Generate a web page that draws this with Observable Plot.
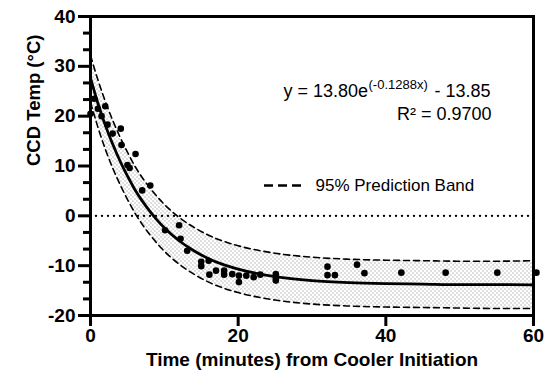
<!DOCTYPE html>
<html><head><meta charset="utf-8">
<script src="https://cdn.jsdelivr.net/npm/d3@7"></script>
<script src="https://cdn.jsdelivr.net/npm/@observablehq/plot@0.6"></script>
<style>
html,body{margin:0;padding:0;background:#fff;}
</style></head><body><div id="chart"></div>
<script>
// Observed CCD temperatures (minutes, °C)
const obsX = [0, 0.5, 1, 1.5, 2, 2.3, 3.0, 4.1, 4.2, 5.0, 5.3, 6.1, 7.0, 8.1, 10.1, 12.0, 12.2, 13.1, 15.0, 15.0, 16.0, 16.1, 17.0, 18.1, 18.1, 19.2, 20.1, 20.1, 21.1, 22.1, 23.0, 25.1, 25.1, 25.1, 32.1, 32.1, 33.1, 36.1, 37.1, 42.1, 48.1, 55.1, 60.4];
const obsY = [20.5, 23.5, 21.5, 20.0, 22.0, 18.3, 16.5, 17.5, 14.2, 10.2, 9.6, 12.4, 5.1, 6.1, -2.9, -1.9, -4.6, -7.0, -9.2, -10.1, -9.0, -11.8, -11.0, -11.0, -11.8, -11.7, -12.0, -13.3, -12.0, -12.3, -11.8, -11.7, -12.5, -13.0, -10.2, -11.9, -11.9, -9.8, -11.5, -11.4, -11.4, -11.4, -11.4];

// Fitted curve and 95% prediction band
const fitX = [0, 1, 2, 3, 4, 5, 6, 7, 8, 9, 10, 12, 14, 16, 18, 20, 25, 30, 35, 40, 45, 50, 55, 60];
const fitY = [27.7, 22.6, 18.2, 14.4, 11.0, 8.0, 5.3, 3.0, 1.0, -0.8, -2.4, -5.0, -7.0, -8.6, -9.8, -10.7, -12.2, -13.0, -13.4, -13.6, -13.7, -13.8, -13.8, -13.85];
const bandUpper = [32.2, 27.3, 23.0, 19.2, 15.8, 12.8, 10.0, 7.7, 5.7, 3.9, 2.3, -0.3, -2.3, -3.9, -5.1, -6.0, -7.5, -8.3, -8.7, -8.9, -9.0, -9.1, -9.1, -9.0];
const bandLower = [22.8, 17.8, 13.4, 9.6, 6.3, 3.3, 0.6, -1.7, -3.7, -5.5, -7.1, -9.7, -11.7, -13.3, -14.5, -15.4, -16.9, -17.7, -18.1, -18.3, -18.4, -18.5, -18.6, -18.6];

const xTicks = [0, 20, 40, 60];
const yTicks = [-20, -10, 0, 10, 20, 30, 40];
const yMinorTicks = [-16.67, -13.33, -6.67, -3.33, 3.33, 6.67, 13.33, 16.67, 23.33, 26.67, 33.33, 36.67];
const zeroLine = [0];
const legendY = [6.1];

const xLabel = "Time (minutes) from Cooler Initiation";
const yLabel = "CCD Temp (°C)";
const eqMain = "y = 13.80e";
const eqSup = "(-0.1288x)";
const eqTail = "- 13.85";
const r2Text = "R² = 0.9700";
const legendText = "95% Prediction Band";

const obs = obsX.map((x, i) => ({x, y: obsY[i]}));
const fit = fitX.map((x, i) => ({x, y: fitY[i], hi: bandUpper[i], lo: bandLower[i]}));

const font = "'Liberation Sans', Arial, Helvetica, sans-serif";
const ML = 90, MT = 16;

const plot = Plot.plot({
  width: 551, height: 376,
  marginLeft: ML, marginRight: 18, marginTop: MT, marginBottom: 61,
  style: {fontFamily: font, fontSize: "19px", fontWeight: "bold", color: "#000", background: "#fff", overflow: "visible"},
  x: {domain: [0, 60]},
  y: {domain: [-20, 40]},
  marks: [
    Plot.areaY(fit, {x: "x", y1: "lo", y2: "hi", fill: "url(#stipple)", curve: "monotone-x"}),
    Plot.line(fit, {x: "x", y: "hi", stroke: "#000", strokeWidth: 1.6, strokeDasharray: "6,4", curve: "monotone-x"}),
    Plot.line(fit, {x: "x", y: "lo", stroke: "#000", strokeWidth: 1.6, strokeDasharray: "6,4", curve: "monotone-x"}),
    Plot.ruleY(zeroLine, {stroke: "#000", strokeWidth: 2.4, strokeDasharray: "0,6", strokeLinecap: "round"}),
    Plot.line(fit, {x: "x", y: "y", stroke: "#000", strokeWidth: 2.8, curve: "monotone-x"}),
    Plot.dot(obs, {x: "x", y: "y", r: 3.3, fill: "#000", stroke: "none"}),
    Plot.axisY(yMinorTicks, {tickSize: 7, strokeWidth: 3, text: null, label: null}),
    Plot.axisY(yTicks, {tickSize: 12, strokeWidth: 3, tickPadding: 3, tickFormat: d => String(d), label: null, fontSize: 19, fontWeight: "bold"}),
    Plot.axisX(xTicks, {tickSize: 11, strokeWidth: 3, tickPadding: 2, tickFormat: d => String(d), label: null, fontSize: 19, fontWeight: "bold"}),
    Plot.frame({stroke: "#000", strokeWidth: 3}),
    Plot.text([xLabel], {frameAnchor: "bottom", dy: 44, lineAnchor: "middle", fontSize: 19, fontWeight: "bold"}),
    Plot.text([yLabel], {frameAnchor: "left", dx: -56, rotate: -90, lineAnchor: "middle", fontSize: 18.5, fontWeight: "bold"}),
    Plot.text([eqMain], {frameAnchor: "top-left", dx: 283 - ML, dy: 91 - MT, textAnchor: "start", lineAnchor: "middle", fontSize: 18, fontWeight: "normal"}),
    Plot.text([eqSup], {frameAnchor: "top-left", dx: 368 - ML, dy: 84 - MT, textAnchor: "start", lineAnchor: "middle", fontSize: 13, fontWeight: "normal"}),
    Plot.text([eqTail], {frameAnchor: "top-left", dx: 434 - ML, dy: 91 - MT, textAnchor: "start", lineAnchor: "middle", fontSize: 18, fontWeight: "normal"}),
    Plot.text([r2Text], {frameAnchor: "top-left", dx: 491 - ML, dy: 113.5 - MT, textAnchor: "end", lineAnchor: "middle", fontSize: 18, fontWeight: "normal"}),
    Plot.ruleY(legendY, {x1: (264 - ML) / 7.383, x2: (302 - ML) / 7.383, stroke: "#000", strokeWidth: 2.6, strokeDasharray: "9,5"}),
    Plot.text([legendText], {frameAnchor: "top-left", dx: 315 - ML, dy: 185 - MT, textAnchor: "start", lineAnchor: "middle", fontSize: 17, fontWeight: "normal"})
  ]
});

d3.select(plot).insert("defs", ":first-child").html(
  '<pattern id="stipple" patternUnits="userSpaceOnUse" width="4" height="4">' +
  '<rect width="4" height="4" fill="#fff"/>' +
  '<circle cx="1" cy="1" r="0.7" fill="#a8a8a8"/>' +
  '<circle cx="3" cy="3" r="0.7" fill="#a8a8a8"/>' +
  '</pattern>'
);
document.getElementById("chart").appendChild(plot);
</script>
</body></html>
